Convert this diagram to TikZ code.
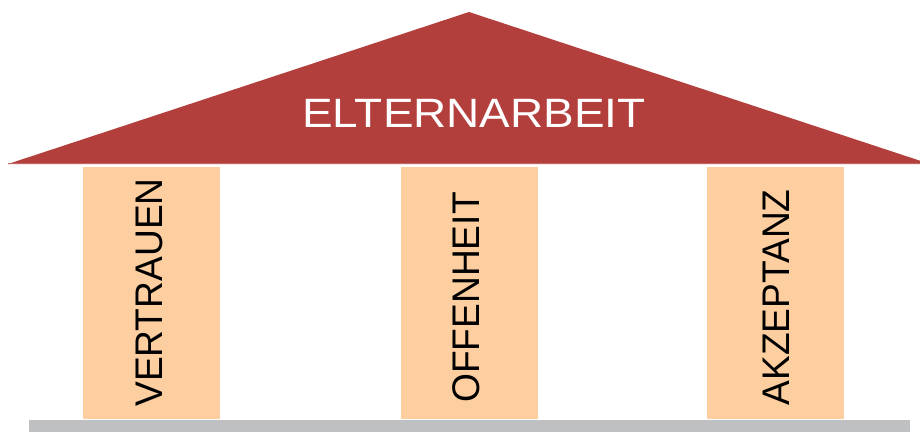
\documentclass[tikz,border=0pt]{standalone}
\usepackage{fontspec}
\setmainfont{Liberation Sans}
\definecolor{roofred}{HTML}{B33F3D}
\definecolor{pillarfill}{HTML}{FDCFA0}
\definecolor{groundgray}{HTML}{BFC0C2}
\begin{document}
\begin{tikzpicture}[x=1pt,y=-1pt,
  pillar/.style={fill=pillarfill},
  pillarlabel/.style={rotate=90,inner sep=0pt,font=\fontsize{38.5}{38.5}\selectfont,xscale=0.965,transform shape,anchor=center}]
\useasboundingbox (0,0) rectangle (920,432);
% roof
\fill[roofred] (8,164) -- (469,12) -- (930,164) -- cycle;
\draw[roofred!80!white,line width=1pt] (8,163.5) -- (920,163.5);
\node[text=white,inner sep=0pt,font=\fontsize{41}{41}\selectfont,xscale=1.12,transform shape] (roof) at (474,113.5) {ELTERNARBEIT};
% ground
\fill[groundgray] (29,420) rectangle (910,432);
% pillars
\fill[pillar] (83,167) rectangle (220,419);
\fill[pillar] (401,167) rectangle (538,419);
\fill[pillar] (707,167) rectangle (844,419);
\node[pillarlabel] (p1) at (149,292.5) {VERTRAUEN};
\node[pillarlabel] (p2) at (466,297.5) {OFFENHEIT};
\node[pillarlabel] (p3) at (776,297.5) {AKZEPTANZ};
\end{tikzpicture}
\end{document}
